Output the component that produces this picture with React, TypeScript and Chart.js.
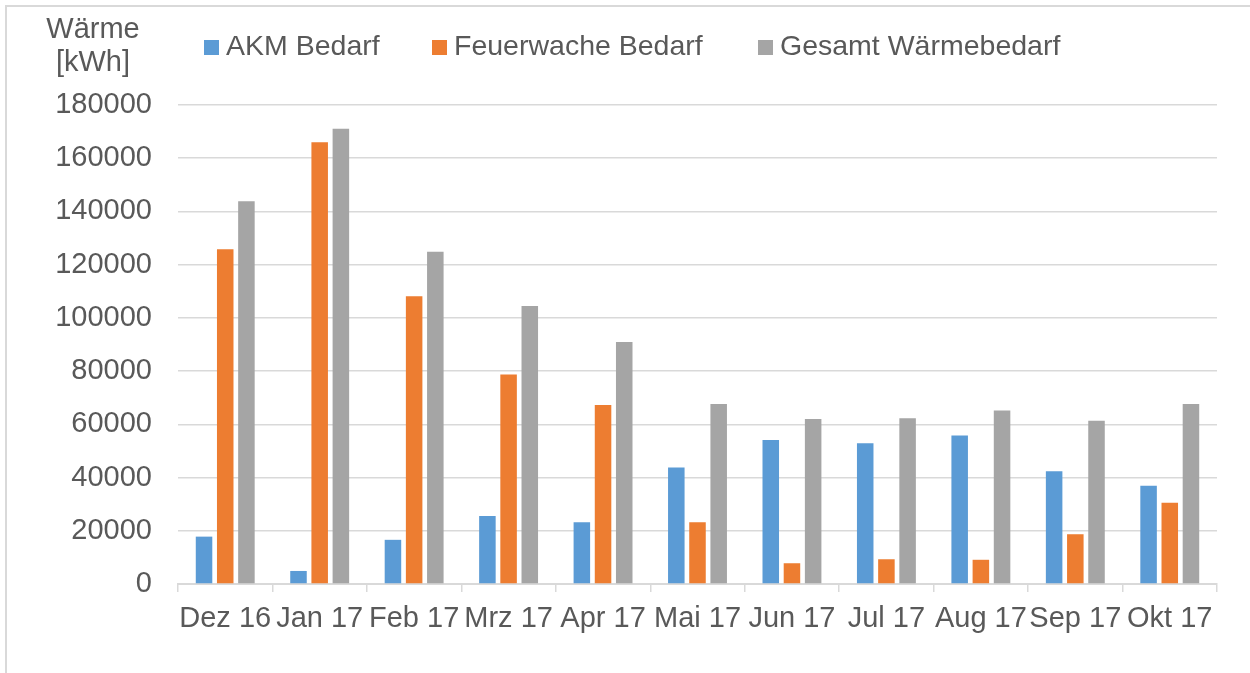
import React, { useEffect, useRef } from "react";
import { Chart, registerables } from "chart.js";

Chart.register(...registerables);

const MONTHS = ["Dez 16", "Jan 17", "Feb 17", "Mrz 17", "Apr 17", "Mai 17", "Jun 17", "Jul 17", "Aug 17", "Sep 17", "Okt 17"];
const AKM_BEDARF = [17800, 4900, 16600, 25600, 23200, 43800, 54100, 52900, 55800, 42400, 36900];
const FEUERWACHE_BEDARF = [125800, 166000, 108100, 78700, 67300, 23200, 7800, 9300, 9100, 18700, 30500];
const GESAMT_BEDARF = [143800, 171100, 124900, 104500, 90900, 67600, 62000, 62300, 65200, 61300, 67600];
const SERIES_LABELS = ["AKM Bedarf", "Feuerwache Bedarf", "Gesamt Wärmebedarf"];
const Y_TITLE = ["Wärme", "[kWh]"];
const Y_MIN = 0;
const Y_MAX = 180000;
const Y_STEP = 20000;

const COLORS = ["#5B9BD5", "#ED7D31", "#A5A5A5"];
const TEXT_COLOR = "#595959";
const GRID_COLOR = "#D9D9D9";
const FONT_FAMILY = "'Liberation Sans', Arial, Helvetica, sans-serif";
const FONT_SIZE = 29;
const LEGEND_FONT_SIZE = 28.5;
const LEGEND_ITEM_X = [204, 432, 758];

const overlayPlugin = {
  id: "overlayTexts",
  afterDraw(chart: any) {
    const ctx = chart.ctx as CanvasRenderingContext2D;
    ctx.save();
    ctx.fillStyle = TEXT_COLOR;
    ctx.textBaseline = "alphabetic";
    // axis title (top-left, horizontal)
    ctx.font = `${FONT_SIZE}px ${FONT_FAMILY}`;
    ctx.textAlign = "center";
    ctx.fillText(Y_TITLE[0], 93, 38);
    ctx.fillText(Y_TITLE[1], 93, 71);
    // legend
    ctx.font = `${LEGEND_FONT_SIZE}px ${FONT_FAMILY}`;
    ctx.textAlign = "left";
    const box = 15;
    const textGap = 22;
    chart.data.datasets.forEach((ds: any, i: number) => {
      const x = LEGEND_ITEM_X[i];
      ctx.fillStyle = ds.backgroundColor;
      ctx.fillRect(x, 40, box, box);
      ctx.fillStyle = TEXT_COLOR;
      ctx.fillText(ds.label, x + textGap, 55);
    });
    ctx.restore();
  },
};

export default function App() {
  const canvasRef = useRef<HTMLCanvasElement | null>(null);

  useEffect(() => {
    const canvas = canvasRef.current;
    if (!canvas) return;
    const font = { family: FONT_FAMILY, size: FONT_SIZE };
    const chart = new Chart(canvas, {
      type: "bar",
      data: {
        labels: MONTHS,
        datasets: [
          { label: SERIES_LABELS[0], data: AKM_BEDARF, backgroundColor: COLORS[0] },
          { label: SERIES_LABELS[1], data: FEUERWACHE_BEDARF, backgroundColor: COLORS[1] },
          { label: SERIES_LABELS[2], data: GESAMT_BEDARF, backgroundColor: COLORS[2] },
        ],
      },
      options: {
        animation: false,
        responsive: false,
        devicePixelRatio: 1,
        layout: { padding: { top: 105, right: 33, left: 0, bottom: 0 } },
        datasets: { bar: { categoryPercentage: 0.673, barPercentage: 0.78 } },
        plugins: {
          legend: { display: false },
          tooltip: { enabled: false },
          title: { display: false },
        },
        scales: {
          x: {
            grid: {
              display: true,
              drawOnChartArea: false,
              drawTicks: true,
              tickLength: 8,
              color: GRID_COLOR,
              lineWidth: 1.5,
              offset: true,
            },
            border: { display: true, color: GRID_COLOR, width: 2 },
            ticks: {
              color: TEXT_COLOR,
              font,
              padding: 10,
              maxRotation: 0,
              minRotation: 0,
              autoSkip: false,
            },
            afterFit: (s: any) => {
              s.height = 89;
            },
          },
          y: {
            min: Y_MIN,
            max: Y_MAX,
            grid: { color: GRID_COLOR, lineWidth: 1.5, drawTicks: false },
            border: { display: false },
            ticks: {
              stepSize: Y_STEP,
              color: TEXT_COLOR,
              font,
              padding: 26,
              callback: (v: any) => String(v),
            },
            afterFit: (s: any) => {
              s.width = 178;
            },
          },
        },
      },
      plugins: [overlayPlugin],
    });
    return () => chart.destroy();
  }, []);

  return (
    <div
      style={{
        position: "fixed",
        left: 0,
        top: 0,
        width: 1250,
        height: 673,
        overflow: "hidden",
        background: "#FFFFFF",
      }}
    >
      <div
        style={{
          position: "absolute",
          left: 5,
          top: 5,
          width: 1300,
          height: 700,
          border: `2px solid ${GRID_COLOR}`,
          boxSizing: "border-box",
        }}
      />
      <canvas
        ref={canvasRef}
        width={1250}
        height={673}
        style={{ position: "absolute", left: 0, top: 0, display: "block" }}
      />
    </div>
  );
}
